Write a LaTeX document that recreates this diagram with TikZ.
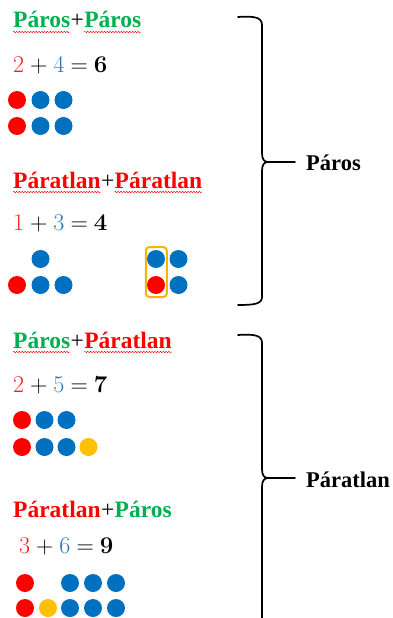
\documentclass[tikz,border=0pt]{standalone}
\usepackage[no-math]{fontspec}
\setmainfont{Liberation Serif}
\newfontfamily\eqfont{Latin Modern Roman}
\usetikzlibrary{decorations.pathmorphing}
\definecolor{tgreen}{HTML}{00B050}
\definecolor{tred}{HTML}{FF0000}
\definecolor{nred}{HTML}{FF1F1F}
\definecolor{nblue}{HTML}{2E75B6}
\definecolor{dblue}{HTML}{0070C0}
\definecolor{dred}{HTML}{FF0000}
\definecolor{dyel}{HTML}{FFC000}
\definecolor{ybox}{HTML}{F7B500}
\tikzset{
  ttl/.style={font=\fontsize{23.5}{26}\selectfont\bfseries, inner sep=0pt, anchor=base west},
  plus/.style={font=\fontsize{23.5}{26}\selectfont, inner sep=0pt, anchor=base west},
  lbl/.style={font=\fontsize{22.5}{26}\selectfont\bfseries, inner sep=0pt, anchor=base west},
  eqn/.style={font=\eqfont\fontsize{24}{26}\selectfont, inner sep=0pt, anchor=base west},
  dot/.style={circle, minimum size=18pt, inner sep=0pt, draw=none},
  rd/.style={dot, fill=dred},
  bd/.style={dot, fill=dblue},
  yd/.style={dot, fill=dyel},
  squig/.style={draw=red, line width=0.45pt, decorate, decoration={snake, amplitude=0.75pt, segment length=2.8pt}},
  brace/.style={draw=black, line width=1.7pt, line cap=round},
  hbox/.style={draw=ybox, line width=2pt, rounded corners=3.5pt, minimum width=21pt, minimum height=50pt, inner sep=0pt}
}
\newcommand{\eqsp}{\hspace{6pt}}
\begin{document}
\begin{tikzpicture}[x=1pt,y=-1pt]
\useasboundingbox[fill=white] (0,0) rectangle (393,618);

% ---------- Group 1: Paros + Paros ----------
\node[ttl, text=tgreen] (t1a) at (13,28) {Páros};
\node[plus] (t1b) at (t1a.base east) {+};
\node[ttl, text=tgreen] (t1c) at (t1b.base east) {Páros};
\draw[squig] ([yshift=-4pt]t1a.base west) -- ([yshift=-4pt]t1a.base east);
\draw[squig] ([yshift=-4pt]t1c.base west) -- ([yshift=-4pt]t1c.base east);

\node[eqn] (e1) at (13,72) {\textcolor{nred}{2}\eqsp+\eqsp\textcolor{nblue}{4}\eqsp=\eqsp\textbf{6}};

\node[rd] (g1a) at (17,100) {};
\node[bd] (g1b) at (40.5,100) {};
\node[bd] (g1c) at (63.5,100) {};
\node[rd] (g1d) at (17,126) {};
\node[bd] (g1e) at (40.5,126) {};
\node[bd] (g1f) at (63.5,126) {};

% ---------- Group 2: Paratlan + Paratlan ----------
\node[ttl, text=tred] (t2a) at (13,188) {Páratlan};
\node[plus] (t2b) at (t2a.base east) {+};
\node[ttl, text=tred] (t2c) at (t2b.base east) {Páratlan};
\draw[squig] ([yshift=-4pt]t2a.base west) -- ([yshift=-4pt]t2a.base east);
\draw[squig] ([yshift=-4pt]t2c.base west) -- ([yshift=-4pt]t2c.base east);

\node[eqn] (e2) at (13,230) {\textcolor{nred}{1}\eqsp+\eqsp\textcolor{nblue}{3}\eqsp=\eqsp\textbf{4}};

\node[bd] (g2a) at (40.5,259) {};
\node[rd] (g2b) at (17,285) {};
\node[bd] (g2c) at (40.5,285) {};
\node[bd] (g2d) at (63.5,285) {};

\node[bd] (g2e) at (156,259) {};
\node[bd] (g2f) at (178.5,259) {};
\node[rd] (g2g) at (156,285) {};
\node[bd] (g2h) at (178.5,285) {};
\node[hbox] (box) at (156.3,272) {};

% ---------- Group 3: Paros + Paratlan ----------
\node[ttl, text=tgreen] (t3a) at (13,348) {Páros};
\node[plus] (t3b) at (t3a.base east) {+};
\node[ttl, text=tred] (t3c) at (t3b.base east) {Páratlan};
\draw[squig] ([yshift=-4pt]t3a.base west) -- ([yshift=-4pt]t3a.base east);
\draw[squig] ([yshift=-4pt]t3c.base west) -- ([yshift=-4pt]t3c.base east);

\node[eqn] (e3) at (13,392) {\textcolor{nred}{2}\eqsp+\eqsp\textcolor{nblue}{5}\eqsp=\eqsp\textbf{7}};

\node[rd] (g3a) at (22,420) {};
\node[bd] (g3b) at (44.5,420) {};
\node[bd] (g3c) at (66.5,420) {};
\node[rd] (g3d) at (22,447) {};
\node[bd] (g3e) at (44.5,447) {};
\node[bd] (g3f) at (66.5,447) {};
\node[yd] (g3g) at (88.5,447) {};

% ---------- Group 4: Paratlan + Paros ----------
\node[ttl, text=tred] (t4a) at (13,517) {Páratlan};
\node[plus] (t4b) at (t4a.base east) {+};
\node[ttl, text=tgreen] (t4c) at (t4b.base east) {Páros};

\node[eqn] (e4) at (19,553) {\textcolor{nred}{3}\eqsp+\eqsp\textcolor{nblue}{6}\eqsp=\eqsp\textbf{9}};

\node[rd] (g4a) at (25,583) {};
\node[bd] (g4b) at (70,583) {};
\node[bd] (g4c) at (93,583) {};
\node[bd] (g4d) at (116,583) {};
\node[rd] (g4e) at (25,608) {};
\node[yd] (g4f) at (48,608) {};
\node[bd] (g4g) at (70,608) {};
\node[bd] (g4h) at (93,608) {};
\node[bd] (g4i) at (116,608) {};

% ---------- Brace 1 ----------
\coordinate (b1top) at (238,17);
\coordinate (b1bot) at (238,305);
\coordinate (b1tip) at (268,162);
\coordinate (b1end) at (295,162);
\draw[brace] (b1top) .. controls (254,16) and (262,17) .. (262,25)
  -- (262,153) .. controls (262,159) and (264,162) .. (b1tip)
  .. controls (264,162) and (262,165) .. (262,171)
  -- (262,297) .. controls (262,304) and (254,305) .. (b1bot);
\draw[brace, line width=1.5pt] (b1tip) -- (b1end);
\node[lbl] (l1) at (306,170) {Páros};

% ---------- Brace 2 ----------
\coordinate (b2top) at (238,335);
\coordinate (b2bot) at (262,630);
\coordinate (b2tip) at (268,478);
\coordinate (b2end) at (295,478);
\draw[brace] (b2top) .. controls (254,334) and (262,335) .. (262,343)
  -- (262,469) .. controls (262,475) and (264,478) .. (b2tip)
  .. controls (264,478) and (262,481) .. (262,487)
  -- (b2bot);
\draw[brace, line width=1.5pt] (b2tip) -- (b2end);
\node[lbl] (l2) at (306,487) {Páratlan};
\end{tikzpicture}
\end{document}
